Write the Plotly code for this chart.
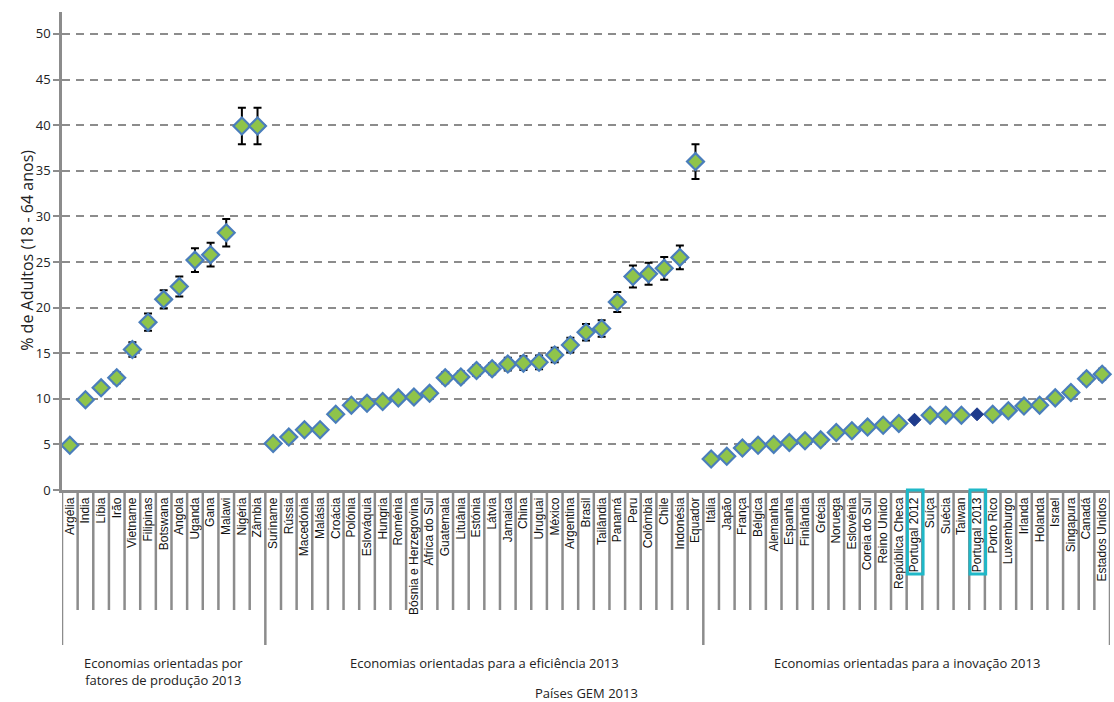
import plotly.graph_objects as go

# ---------------- data ----------------
grupo1 = ["Argélia", "India", "Líbia", "Irão", "Vietname", "Filipinas", "Botswana", "Angola",
          "Uganda", "Gana", "Malawi", "Nigéria", "Zâmbia"]
valores1 = [4.9, 9.9, 11.2, 12.3, 15.4, 18.4, 20.9, 22.3, 25.2, 25.8, 28.2, 39.9, 39.9]
erros1 = [0.3, 0.4, 0.5, 0.6, 0.8, 0.95, 1.0, 1.1, 1.3, 1.3, 1.5, 2.0, 2.0]

grupo2 = ["Suriname", "Rússia", "Macedónia", "Malásia", "Croácia", "Polónia", "Eslováquia",
          "Hungria", "Roménia", "Bósnia e Herzegovina", "África do Sul", "Guatemala", "Lituânia",
          "Estónia", "Látvia", "Jamaica", "China", "Uruguai", "México", "Argentina", "Brasil",
          "Tailândia", "Panamá", "Peru", "Colômbia", "Chile", "Indonésia", "Equador"]
valores2 = [5.1, 5.8, 6.6, 6.6, 8.3, 9.3, 9.5, 9.7, 10.1, 10.2, 10.6, 12.3, 12.4, 13.1, 13.3,
            13.8, 13.9, 14.0, 14.8, 15.9, 17.3, 17.7, 20.6, 23.4, 23.7, 24.3, 25.5, 36.0]
erros2 = [0.3, 0.35, 0.35, 0.35, 0.4, 0.45, 0.45, 0.45, 0.45, 0.45, 0.45, 0.6, 0.6, 0.6, 0.6,
          0.7, 0.75, 0.75, 0.8, 0.8, 0.9, 0.9, 1.1, 1.2, 1.2, 1.25, 1.3, 1.9]

grupo3 = ["Itália", "Japão", "França", "Bélgica", "Alemanha", "Espanha", "Finlândia", "Grécia",
          "Noruega", "Eslovénia", "Coreia do Sul", "Reino Unido", "República Checa",
          "Portugal 2012", "Suíça", "Suécia", "Taiwan", "Portugal 2013", "Porto Rico",
          "Luxemburgo", "Irlanda", "Holanda", "Israel", "Singapura", "Canadá", "Estados Unidos"]
valores3 = [3.4, 3.7, 4.6, 4.9, 5.0, 5.2, 5.4, 5.5, 6.3, 6.5, 6.9, 7.1, 7.3, 7.7, 8.2, 8.2,
            8.2, 8.3, 8.3, 8.7, 9.2, 9.3, 10.1, 10.7, 12.2, 12.7]
erros3 = [0.25, 0.25, 0.3, 0.3, 0.3, 0.3, 0.3, 0.3, 0.3, 0.3, 0.3, 0.3, 0.35, 0.0, 0.35, 0.35,
          0.35, 0.0, 0.35, 0.4, 0.45, 0.45, 0.45, 0.5, 0.55, 0.6]

grupos_nomes = ["Economias orientadas por<br>fatores de produção 2013",
                "Economias orientadas para a eficiência 2013",
                "Economias orientadas para a inovação 2013"]
destaques = ["Portugal 2012", "Portugal 2013"]

y_ticks = [0, 5, 10, 15, 20, 25, 30, 35, 40, 45, 50]

# ---------------- build ----------------
paises = grupo1 + grupo2 + grupo3
valores = valores1 + valores2 + valores3
erros = erros1 + erros2 + erros3
xs = list(range(len(paises)))

main_y = [None if p in destaques else v for p, v in zip(paises, valores)]
main_e = [0 if p in destaques else e for p, e in zip(paises, erros)]
pt_y = [v if p in destaques else None for p, v in zip(paises, valores)]

fig = go.Figure()
fig.add_trace(go.Scatter(
    x=xs, y=main_y, mode="markers",
    marker=dict(symbol="diamond", size=13, color="#8FC44A",
                line=dict(color="#4A7EBB", width=2.2)),
    error_y=dict(type="data", array=main_e, visible=True, color="black",
                 thickness=2, width=4),
    showlegend=False, cliponaxis=False))
fig.add_trace(go.Scatter(
    x=xs, y=pt_y, mode="markers",
    marker=dict(symbol="diamond", size=10, color="#1F3B8C",
                line=dict(color="#1F3B8C", width=1)),
    showlegend=False))

# plot area geometry (pixels)
W, H = 1114, 702
L, R, T, B = 62, 4, 12, 212
ph = H - T - B


def py(pix):
    return (H - B - pix) / ph


n = len(paises)
bounds_group = {-0.5, len(grupo1) - 0.5, len(grupo1) + len(grupo2) - 0.5, n - 0.5}
shapes = []
for i in range(n + 1):
    xb = i - 0.5
    long = xb in bounds_group
    shapes.append(dict(type="line", xref="x", yref="paper", x0=xb, x1=xb,
                       y0=0, y1=py(645 if long else 610),
                       line=dict(color="#8C8C8C", width=2.5)))
for p in destaques:
    k = paises.index(p)
    shapes.append(dict(type="rect", xref="x", yref="paper", x0=k - 0.45, x1=k + 0.55,
                       y0=py(490), y1=py(574), line=dict(color="#1FB8C8", width=3)))

annotations = []
starts = [0, len(grupo1), len(grupo1) + len(grupo2)]
ends = [len(grupo1), len(grupo1) + len(grupo2), n]
for nome, s, e in zip(grupos_nomes, starts, ends):
    cx = (s + e - 1) / 2
    annotations.append(dict(x=cx, xref="x", y=py(652), yref="paper", yanchor="top",
                            text=nome, showarrow=False,
                            font=dict(family="Open Sans", size=13, color="#222")))
annotations.append(dict(x=0.5, xref="paper", y=py(682), yref="paper", yanchor="top",
                        text="Países GEM 2013", showarrow=False,
                        font=dict(family="Open Sans", size=13, color="#222")))
annotations.append(dict(x=-0.046, xref="paper", y=py(250), yref="paper",
                        text="% de Adultos (18 - 64 anos)", textangle=-90, showarrow=False,
                        font=dict(family="Open Sans", size=16, color="#222")))

fig.update_layout(
    width=W, height=H,
    margin=dict(l=L, r=R, t=T, b=B),
    paper_bgcolor="white", plot_bgcolor="white",
    shapes=shapes, annotations=annotations,
    xaxis=dict(range=[-0.5, n - 0.5], tickmode="array", tickvals=xs, ticktext=paises,
               tickangle=-90, ticks="", showgrid=False, zeroline=False,
               showline=True, linecolor="#8C8C8C", linewidth=2.5,
               tickfont=dict(family="Liberation Sans, Arial", size=12, color="#111")),
    yaxis=dict(range=[0, 52.4], tickvals=y_ticks, showgrid=True, gridcolor="#8C8C8C",
               gridwidth=2, griddash="8px,6px", zeroline=False,
               showline=True, linecolor="#8C8C8C", linewidth=2.5,
               ticks="outside", ticklen=6, tickcolor="#8C8C8C", tickwidth=2,
               tickfont=dict(family="Open Sans", size=13, color="#222")),
)

fig.write_html("out.html", config={"displayModeBar": False},
               post_script="document.body.style.margin='0px';document.body.style.overflow='hidden';")
